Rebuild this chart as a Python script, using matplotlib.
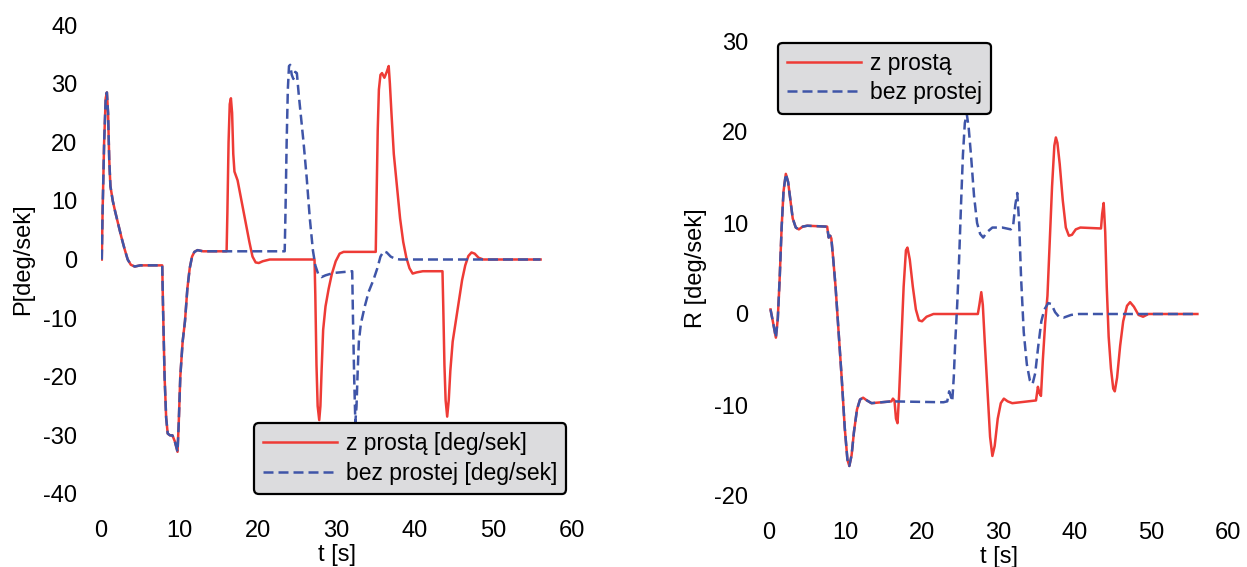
import matplotlib
matplotlib.use('Agg')
import matplotlib.pyplot as plt

plt.rcParams['font.family'] = ['Liberation Sans', 'DejaVu Sans']
plt.rcParams['axes.unicode_minus'] = False

# --- left panel: P [deg/sek] ---
# common start of both runs (identical up to t ~ 16 s)
t_p_common = [0.1, 0.2, 0.4, 0.6, 0.75, 0.9, 1.05, 1.2, 1.5, 1.8, 2.2, 2.6,
              3.0, 3.4, 3.8, 4.3, 5.0, 7.8, 7.9, 8.1, 8.3, 8.5, 8.8, 9.1,
              9.4, 9.75, 9.9, 10.1, 10.4, 10.7, 11.0, 11.3, 11.6, 11.9, 12.3,
              13.0, 16.0]
p_common = [0, 8, 20, 27.5, 28.5, 25, 17, 12.5, 10, 8.2, 6, 3.8,
            1.8, 0, -0.9, -1.2, -1.0, -1.0, -8, -20, -27, -29.7, -30, -30,
            -31, -32.8, -28, -20, -14, -10.5, -5, -1.5, 0.5, 1.3, 1.6,
            1.4, 1.4]

t_p_z = [16.1, 16.25, 16.4, 16.55, 16.7, 16.85, 17.0, 17.4, 17.9, 18.4,
         18.9, 19.3, 19.7, 20.1, 20.6, 21.5, 27.2, 27.3, 27.45, 27.6, 27.8,
         27.95, 28.1, 28.3, 28.6, 29.0, 29.4, 29.9, 30.4, 30.9, 31.5, 35.0,
         35.1, 35.25, 35.4, 35.6, 35.8, 36.1, 36.4, 36.65, 36.8, 37.0, 37.3,
         37.7, 38.1, 38.5, 38.9, 39.3, 39.7, 40.2, 41.0, 43.5, 43.6, 43.75,
         43.9, 44.1, 44.3, 44.5, 44.8, 45.2, 45.6, 46.0, 46.4, 46.8, 47.2,
         47.6, 48.1, 48.7, 56.0]
p_z = [8, 20, 26.5, 27.5, 25, 18, 15, 13.5, 10, 6.5,
       3, 0.5, -0.5, -0.6, -0.3, 0, 0, -6, -18, -25, -27.4,
       -25, -19, -12, -8, -5, -2.5, -0.3, 1.0, 1.3, 1.3, 1.3,
       10, 22, 29, 31.5, 31.8, 31, 32, 33, 30, 25, 18,
       12.5, 7, 3, 0.3, -1.5, -2.4, -2.2, -2, -2, -8, -18,
       -24, -26.8, -24, -19, -14, -10.5, -7, -3.5, -1, 0.6, 1.2,
       1, 0.3, 0, 0]

t_p_b = [23.4, 23.5, 23.65, 23.8, 23.95, 24.1, 24.3, 24.5, 24.75, 24.95,
         25.2, 25.5, 25.8, 26.2, 26.6, 27.0, 27.3, 27.7, 28.1, 28.6, 29.6,
         32.0, 32.1, 32.25, 32.4, 32.55, 32.7, 32.85, 33.1, 33.6, 34.1,
         34.7, 35.2, 35.6, 36.0, 36.4, 36.9, 37.5, 38.1, 56.0]
p_b = [1.4, 8, 20, 29, 33, 33.2, 31.5, 30.8, 32, 31.8,
       28, 24, 20, 14, 7, 1.5, -1, -2.6, -3, -2.7, -2.3,
       -2, -10, -20, -27.8, -25, -19, -14, -11, -8, -5.5,
       -3.5, -1.5, 0.5, 1.4, 1.2, 0.5, 0.1, 0, 0]

# --- right panel: R [deg/sek] ---
t_r_common = [0.2, 0.5, 0.9, 1.15, 1.4, 1.65, 1.9, 2.2, 2.5, 2.8, 3.1, 3.5,
              3.9, 4.4, 5.0, 7.6, 7.8, 8.0, 8.15, 8.4, 8.7, 9.1, 9.5, 9.9,
              10.25, 10.5, 10.8, 11.1, 11.5, 11.9, 12.3, 12.8, 13.4, 16.0]
r_common = [0.5, -0.8, -2.6, -0.5, 4, 9.5, 13.5, 15.4, 14.5, 12.5, 10.5, 9.5,
            9.3, 9.6, 9.7, 9.6, 8.4, 8.6, 8.3, 6, 3, -2, -7, -12.5,
            -16, -16.7, -15.5, -13, -10.5, -9.4, -9.2, -9.5, -9.8, -9.6]

t_r_z = [16.2, 16.4, 16.6, 16.8, 17.0, 17.3, 17.6, 17.9, 18.1, 18.4, 18.8,
         19.2, 19.6, 20.0, 20.6, 21.5, 27.3, 27.5, 27.75, 27.95, 28.2, 28.6,
         28.9, 29.2, 29.5, 29.9, 30.3, 30.7, 31.2, 31.8, 34.9, 35.15, 35.35,
         35.55, 35.8, 36.1, 36.4, 36.7, 37.0, 37.3, 37.5, 37.7, 38.0, 38.4,
         38.8, 39.2, 39.6, 40.1, 40.7, 43.4, 43.55, 43.75, 43.95, 44.15,
         44.4, 44.7, 45.0, 45.2, 45.5, 45.9, 46.3, 46.8, 47.2, 47.7, 48.3,
         48.9, 49.6, 56.0]
r_z = [-9.3, -9.5, -11.5, -12, -9, -3, 3, 7, 7.3, 6, 3,
       0.5, -0.7, -0.8, -0.3, 0, 0, 1, 2.4, 1, -3, -9,
       -13.5, -15.6, -14.5, -11.5, -9.8, -9.3, -9.6, -9.8, -9.5, -8.0, -8.7,
       -9.0, -5, -1, 2, 8, 14, 18.5, 19.4, 18.8, 16.5, 12.5,
       9.5, 8.6, 8.7, 9.3, 9.5, 9.4, 11, 12.2, 9, 3,
       -2.5, -6, -8.2, -8.5, -7, -3.5, -0.8, 0.9, 1.3, 0.8, -0.1,
       -0.3, 0, 0]

t_r_b = [22.8, 23.3, 23.55, 23.75, 23.95, 24.15, 24.35, 24.6, 24.85, 25.1,
         25.35, 25.6, 25.85, 26.1, 26.4, 26.8, 27.2, 27.6, 28.0, 28.5, 29.2,
         30.5, 31.6, 31.9, 32.2, 32.45, 32.7, 32.95, 33.3, 33.7, 34.1,
         34.45, 34.8, 35.2, 35.6, 36.0, 36.5, 36.9, 37.4, 37.9, 38.5, 39.5,
         40.5, 56.0]
r_b = [-9.7, -9.6, -8.5, -9.0, -9.6, -7, -3, 1, 6, 12,
       17.5, 21, 22, 20.5, 17.5, 13, 10, 8.8, 8.4, 9, 9.5,
       9.5, 9.3, 9.6, 12, 13.3, 10, 4, -2, -5.5, -7.3,
       -7.7, -6.5, -3.5, -0.8, 0.5, 1.2, 1.1, 0.2, -0.3, -0.4, -0.1,
       0, 0]

RED = '#EE3B36'
BLUE = '#3F55A8'
FS = 17
LEG_FS = 16.5

fig = plt.figure(figsize=(12.47, 5.67), dpi=100)
ax1 = fig.add_axes([101 / 1247, 73 / 567, 471 / 1247, 469 / 567])
ax2 = fig.add_axes([769 / 1247, 71 / 567, 459 / 1247, 455 / 567])


def style(ax, ylim, yticks, ylabel, ypad):
    ax.set_xlim(0, 60)
    ax.set_ylim(ylim)
    ax.set_xticks(range(0, 61, 10))
    ax.set_yticks(yticks)
    for s in ax.spines.values():
        s.set_visible(False)
    ax.tick_params(axis='both', length=0, labelsize=FS)
    ax.tick_params(axis='x', pad=19)
    ax.tick_params(axis='y', pad=ypad)
    ax.set_xlabel('t [s]', fontsize=FS, labelpad=1)
    ax.set_ylabel(ylabel, fontsize=FS)


def legend(ax, **kw):
    leg = ax.legend(borderaxespad=0, fontsize=LEG_FS, handlelength=3.2,
                    handletextpad=0.4, labelspacing=0.28, borderpad=0.4,
                    fancybox=True, framealpha=1, facecolor='#DCDCDE',
                    edgecolor='black', **kw)
    leg.get_frame().set_linewidth(1.6)
    return leg


ax1.plot(t_p_common + t_p_z, p_common + p_z, color=RED, lw=1.8,
         label='z prostą [deg/sek]')
ax1.plot(t_p_common + t_p_b, p_common + p_b, color=BLUE, lw=1.8,
         dashes=(4, 2), label='bez prostej [deg/sek]')
style(ax1, (-40, 40), range(-40, 41, 10), 'P[deg/sek]', 17)
ax1.yaxis.set_label_coords(-67 / 471, 0.5)
legend(ax1, loc='lower left', bbox_to_anchor=(0.325, 0.0))

ax2.plot(t_r_common + t_r_z, r_common + r_z, color=RED, lw=1.8,
         label='z prostą')
ax2.plot(t_r_common + t_r_b, r_common + r_b, color=BLUE, lw=1.8,
         dashes=(4, 2), label='bez prostej')
style(ax2, (-20, 30), range(-20, 31, 10), 'R [deg/sek]', 15)
ax2.yaxis.set_label_coords(-62 / 459, 0.5)
legend(ax2, loc='upper left', bbox_to_anchor=(0.02, 0.996))

plt.savefig('out.png', dpi=100)
plt.close()
